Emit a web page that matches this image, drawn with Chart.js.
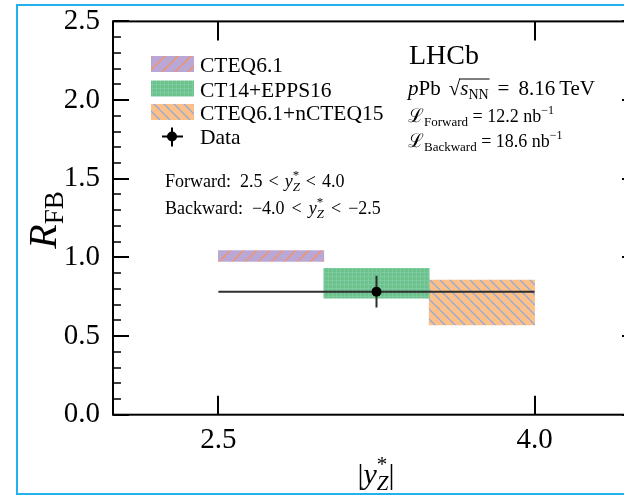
<!DOCTYPE html>
<html>
<head>
<meta charset="utf-8">
<script src="https://cdn.jsdelivr.net/npm/chart.js@4.4.1/dist/chart.umd.min.js"></script>
<style>
  html, body { margin: 0; padding: 0; background: #fff; overflow: hidden; width: 624px; height: 498px; }
  #wrap { position: absolute; left: 0; top: 0; width: 660px; height: 498px; }
</style>
</head>
<body>
<div id="wrap"><canvas id="c"></canvas></div>
<script>
// Theory predictions of R_FB, one PDF set per third of the 2.5 < |y*_Z| < 4.0 bin
const pdfSets = ['CTEQ6.1', 'CT14+EPPS16', 'CTEQ6.1+nCTEQ15'];
const binLow = [2.5, 3.0, 3.5];
const binHigh = [3.0, 3.5, 4.0];
const predLow = [0.975, 0.740, 0.570];
const predHigh = [1.043, 0.931, 0.856];

// Measured forward-backward ratio
const dataRange = [2.5, 4.0];
const dataValue = 0.782;
const dataError = 0.101;

// Axis ticks
const xTickValues = [2.5, 4.0];
const yTickValues = [0.0, 0.5, 1.0, 1.5, 2.0, 2.5];
const yMinorCount = 25;   // minor ticks every 0.1

const SERIF = '"Liberation Serif", "DejaVu Serif", serif';
const F = (size, italic) => (italic ? 'italic ' : '') + size + 'px ' + SERIF;

const canvas = document.getElementById('c');

function makePattern(size, fill, draw) {
  const tile = document.createElement('canvas');
  tile.width = size; tile.height = size;
  const g = tile.getContext('2d');
  g.fillStyle = fill;
  g.fillRect(0, 0, size, size);
  draw(g, size);
  return canvas.getContext('2d').createPattern(tile, 'repeat');
}

// "/" hatch on lilac
const patLilac = makePattern(13, '#b9a7d5', (g, s) => {
  g.strokeStyle = '#f3916a'; g.lineWidth = 1.5;
  for (let k = -1; k <= 2; k++) { g.beginPath(); g.moveTo(k * s, 0); g.lineTo(k * s - s, s); g.stroke(); }
});
// fine grid on green
const patGreen = makePattern(4, '#6bc38b', (g, s) => {
  g.fillStyle = '#7dcaa0';
  g.fillRect(0, 0, s, 1);
  g.fillRect(0, 0, 1, s);
});
// "\" hatch on orange
const patOrange = makePattern(10, '#fdc089', (g, s) => {
  g.strokeStyle = '#93aad6'; g.lineWidth = 1.3;
  for (let k = -1; k <= 2; k++) { g.beginPath(); g.moveTo(k * s, 0); g.lineTo(k * s + s, s); g.stroke(); }
});
const bandFills = [patLilac, patGreen, patOrange];

// ---- rich text helpers (sub/superscripts, stacked scripts, radical bar) ----
function partWidth(ctx, p) {
  if (p.sup || p.sub) {
    let w = 0;
    for (const q of [p.sup, p.sub]) if (q) { ctx.font = q.f; w = Math.max(w, ctx.measureText(q.t).width); }
    return w + (p.gap || 0);
  }
  ctx.font = p.f;
  return ctx.measureText(p.t).width + (p.gap || 0);
}
function drawRich(ctx, x, y, parts, align) {
  const widths = parts.map(p => partWidth(ctx, p));
  const total = widths.reduce((a, b) => a + b, 0);
  let cx = align === 'center' ? x - total / 2 : x;
  ctx.fillStyle = '#000';
  ctx.textAlign = 'left';
  ctx.textBaseline = 'alphabetic';
  let overStart = null, overEnd = null, overY = null;
  parts.forEach((p, i) => {
    if (p.sup || p.sub) {
      for (const q of [p.sup, p.sub]) if (q) { ctx.font = q.f; ctx.fillText(q.t, cx, y + (q.dy || 0)); }
    } else {
      ctx.font = p.f;
      ctx.fillText(p.t, cx, y + (p.dy || 0));
      if (p.radical) { overStart = cx + widths[i] - 1; overY = y - p.radical; }
      if (p.over) overEnd = cx + widths[i] - (p.gap || 0) + 1;
    }
    cx += widths[i];
  });
  if (overStart !== null && overEnd !== null) {
    ctx.strokeStyle = '#000'; ctx.lineWidth = 1;
    ctx.beginPath(); ctx.moveTo(overStart, overY); ctx.lineTo(overEnd, overY); ctx.stroke();
  }
}

const lt = (gap) => ({ t: '<', f: F(18), gap: gap });
const textBlocks = [
  { x: 409, y: 64, parts: [{ t: 'LHCb', f: F(28) }] },
  { x: 408, y: 95, parts: [
      { t: 'p', f: F(21, true) }, { t: 'Pb', f: F(21), gap: 8 },
      { t: '√', f: F(21), radical: 16 },
      { t: 's', f: F(21, true), over: true }, { t: 'NN', f: F(14), dy: 4, over: true, gap: 9 },
      { t: '=', f: F(21), gap: 9 }, { t: '8.16', f: F(21), gap: 4 }, { t: 'TeV', f: F(21) } ] },
  { x: 408, y: 122, parts: [
      { t: 'ℒ', f: F(19) }, { t: 'Forward', f: F(13), dy: 4 },
      { t: ' = 12.2 nb', f: F(18) }, { t: '−1', f: F(12), dy: -8 } ] },
  { x: 408, y: 147, parts: [
      { t: 'ℒ', f: F(19) }, { t: 'Backward', f: F(13), dy: 4 },
      { t: ' = 18.6 nb', f: F(18) }, { t: '−1', f: F(12), dy: -8 } ] },
  { x: 165, y: 187, parts: [
      { t: 'Forward:  2.5', f: F(18), gap: 6 }, lt(6), { t: 'y', f: F(18, true) },
      { sup: { t: '*', f: F(13), dy: -8 }, sub: { t: 'Z', f: F(13, true), dy: 4 }, gap: 6 },
      lt(6), { t: '4.0', f: F(18) } ] },
  { x: 165, y: 214, parts: [
      { t: 'Backward:  ', f: F(18) }, { t: '−4.0', f: F(18), gap: 7 }, lt(7), { t: 'y', f: F(18, true) },
      { sup: { t: '*', f: F(13), dy: -8 }, sub: { t: 'Z', f: F(13, true), dy: 4 }, gap: 7 },
      lt(7), { t: '−2.5', f: F(18) } ] }
];

const decorations = {
  id: 'decorations',
  beforeDraw(chart) {
    const ctx = chart.ctx;
    ctx.save();
    ctx.fillStyle = '#fff';
    ctx.fillRect(0, 0, chart.width, chart.height);
    ctx.restore();
  },
  afterDraw(chart) {
    const ctx = chart.ctx;
    const { left, right, top, bottom } = chart.chartArea;
    const xs = chart.scales.x, ys = chart.scales.y;
    ctx.save();

    // outer frame
    ctx.strokeStyle = '#21b1ee'; ctx.lineWidth = 2;
    ctx.strokeRect(17, 5, 700, 489);

    // axes box
    ctx.strokeStyle = '#000'; ctx.lineWidth = 2;
    ctx.strokeRect(left, top, right - left, bottom - top);

    // inward ticks on y (left and right)
    for (let i = 0; i <= yMinorCount; i++) {
      const v = ys.min + i * (ys.max - ys.min) / yMinorCount;
      const major = yTickValues.some(t => Math.abs(t - v) < 1e-6);
      const len = major ? 16 : 8;
      const py = Math.round(ys.getPixelForValue(v));
      ctx.lineWidth = major ? 2 : 1.6;
      ctx.beginPath();
      ctx.moveTo(left, py); ctx.lineTo(left + len, py);
      ctx.moveTo(right, py); ctx.lineTo(right - len - 2, py);
      ctx.stroke();
    }
    // inward ticks on x (bottom and top)
    ctx.lineWidth = 2;
    for (const v of xTickValues) {
      const px = Math.round(xs.getPixelForValue(v));
      ctx.beginPath();
      ctx.moveTo(px, bottom); ctx.lineTo(px, bottom - 19);
      ctx.moveTo(px, top); ctx.lineTo(px, top + 19);
      ctx.stroke();
    }

    // axis titles
    drawRich(ctx, 376, 484, [
      { t: '|', f: F(30) }, { t: 'y', f: F(30, true) },
      { sup: { t: '*', f: F(21), dy: -13 }, sub: { t: 'Z', f: F(21, true), dy: 6 } },
      { t: '|', f: F(30) } ], 'center');
    ctx.save();
    ctx.translate(56, 220);
    ctx.rotate(-Math.PI / 2);
    drawRich(ctx, 0, 0, [{ t: 'R', f: F(40, true) }, { t: 'FB', f: F(27), dy: 7 }], 'center');
    ctx.restore();

    // legend
    const rowBase = [72, 96.5, 120, 143.5];
    chart.data.datasets.filter(d => d.type === 'bar').forEach((d, i) => {
      ctx.fillStyle = d.backgroundColor;
      ctx.fillRect(151, rowBase[i] - 16, 43, 16);
      ctx.fillStyle = '#000';
      ctx.font = F(21.5);
      ctx.textAlign = 'left'; ctx.textBaseline = 'alphabetic';
      ctx.fillText(d.label, 200, rowBase[i]);
    });
    const mk = { x: 172, y: rowBase[3] - 7 };
    ctx.strokeStyle = '#000'; ctx.lineWidth = 2;
    ctx.beginPath();
    ctx.moveTo(mk.x - 10, mk.y); ctx.lineTo(mk.x + 11, mk.y);
    ctx.moveTo(mk.x, mk.y - 9); ctx.lineTo(mk.x, mk.y + 10);
    ctx.stroke();
    ctx.fillStyle = '#000';
    ctx.beginPath(); ctx.arc(mk.x, mk.y, 5, 0, Math.PI * 2); ctx.fill();
    ctx.font = F(21.5);
    ctx.fillText('Data', 200, rowBase[3]);

    // annotations
    for (const b of textBlocks) drawRich(ctx, b.x, b.y, b.parts, 'left');

    ctx.restore();
  }
};

const dataMid = (dataRange[0] + dataRange[1]) / 2;
const datasets = [
  { type: 'line', label: 'Data', data: [{ x: dataMid, y: dataValue }], showLine: false,
    pointRadius: 5, pointBackgroundColor: '#000', pointBorderColor: '#000', pointBorderWidth: 0, order: 0 },
  { type: 'line', label: 'x range', data: [{ x: dataRange[0], y: dataValue }, { x: dataRange[1], y: dataValue }],
    borderColor: '#2e2e2e', borderWidth: 2, pointRadius: 0, order: 1 },
  { type: 'line', label: 'uncertainty', data: [{ x: dataMid, y: dataValue - dataError }, { x: dataMid, y: dataValue + dataError }],
    borderColor: '#2e2e2e', borderWidth: 2, pointRadius: 0, order: 1 }
];
pdfSets.forEach((name, i) => {
  datasets.push({
    type: 'bar', label: name,
    data: [{ x: (binLow[i] + binHigh[i]) / 2, y: [predLow[i], predHigh[i]] }],
    backgroundColor: bandFills[i], borderWidth: 0,
    categoryPercentage: 1, barPercentage: 1, grouped: false, order: 2
  });
});

new Chart(canvas, {
  type: 'bar',
  data: { datasets },
  options: {
    responsive: true,
    maintainAspectRatio: false,
    animation: false,
    events: [],
    layout: { padding: { top: 21.4, right: 20, bottom: 0, left: 0 } },
    plugins: { legend: { display: false }, tooltip: { enabled: false } },
    scales: {
      x: {
        type: 'linear', min: 2.0, max: 4.5, offset: false,
        grid: { display: false, drawTicks: false, offset: false },
        border: { display: false },
        afterBuildTicks: s => { s.ticks = xTickValues.map(v => ({ value: v })); },
        afterFit: s => { s.height = 83.3; s.paddingLeft = 0; s.paddingRight = 0; },
        ticks: { color: '#000', font: { family: SERIF, size: 29 }, padding: 8,
                 maxRotation: 0, autoSkip: false, callback: v => Number(v).toFixed(1) }
      },
      y: {
        type: 'linear', min: 0, max: 2.5,
        grid: { display: false, drawTicks: false },
        border: { display: false },
        afterBuildTicks: s => { s.ticks = yTickValues.map(v => ({ value: v })); },
        afterFit: s => { s.width = 113; s.paddingTop = 0; s.paddingBottom = 0; },
        ticks: { color: '#000', font: { family: SERIF, size: 29 }, padding: 13,
                 autoSkip: false, callback: v => Number(v).toFixed(1) }
      }
    }
  },
  plugins: [decorations]
});
</script>
</body>
</html>
